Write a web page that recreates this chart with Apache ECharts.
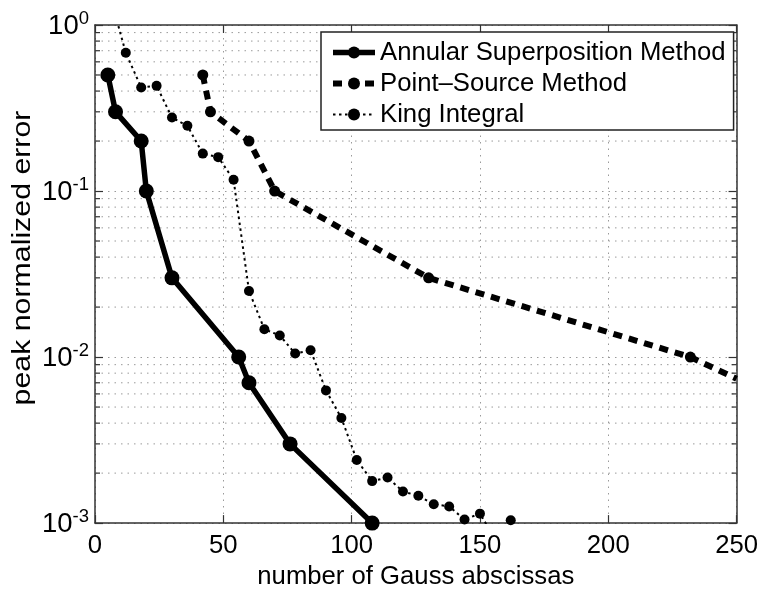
<!DOCTYPE html>
<html>
<head>
<meta charset="utf-8">
<script src="https://cdn.jsdelivr.net/npm/echarts@6/dist/echarts.min.js"></script>
<style>
  html, body { margin: 0; padding: 0; background: #fff; }
  #chart { width: 761px; height: 595px; }
</style>
</head>
<body>
<div id="chart"></div>
<script>
// Convergence of three quadrature schemes: peak normalized error vs. number of Gauss abscissas
const seriesNames = ['Annular Superposition Method', 'Point\u2013Source Method', 'King Integral'];
const xTitle = 'number of Gauss abscissas';
const yTitle = 'peak normalized error';

const annularX = [5, 8, 18, 20, 30, 56, 60, 76, 108];
const annularY = [0.5, 0.3, 0.2, 0.1, 0.03, 0.01, 0.007, 0.003, 0.001];

const pointSourceX = [42, 45, 60, 70, 130, 232, 250];
const pointSourceY = [0.5, 0.3, 0.2, 0.1, 0.03, 0.01, 0.0074];

const kingX = [6, 12, 18, 24, 30, 36, 42, 48, 54, 60, 66, 72, 78, 84, 90, 96, 102, 108, 114, 120, 126, 132, 138, 144, 150, 156, 162];
const kingY = [1.47, 0.68, 0.42, 0.43, 0.277, 0.247, 0.168, 0.16, 0.117, 0.025, 0.0147, 0.0135, 0.0105, 0.011, 0.0063, 0.0043, 0.0024, 0.00179, 0.00188, 0.00155, 0.00146, 0.0013, 0.00126, 0.00105, 0.00114, 0.0008, 0.00104];

const xMin = 0, xMax = 250, xStep = 50;
const yMin = 0.001, yMax = 1;
const decades = [0.001, 0.01, 0.1];
const minorMultipliers = [2, 3, 4, 5, 6, 7, 8, 9];

const FONT = 'Liberation Sans, Arial, Helvetica, sans-serif';
const FS = 25.7;
const INK = '#000';
const AXIS = '#333';
const GRID = '#9a9a9a';

function pairs(xs, ys) { return xs.map((x, i) => [x, ys[i]]); }

const minorValues = [];
decades.forEach(d => minorMultipliers.forEach(m => minorValues.push([xMin, +(m * d).toPrecision(3)])));

// points whose marker falls on the frame edge are drawn as line only
const pointSourceData = pairs(pointSourceX, pointSourceY).map(p =>
  p[0] >= xMax ? { value: p, symbol: 'none' } : p);

const chart = echarts.init(document.getElementById('chart'), null, { renderer: 'canvas' });

const axisLine = { show: true, onZero: false, lineStyle: { color: AXIS, width: 1.5 } };
const majorTick = { show: true, inside: true, length: 8, lineStyle: { color: AXIS, width: 1.2 } };

chart.setOption({
  animation: false,
  backgroundColor: '#fff',
  grid: { left: 95, right: 24, top: 25, bottom: 63, containLabel: false },
  graphic: [{
    // vertical axis title, drawn a little elongated along its reading direction
    type: 'text',
    x: 23, y: 258,
    rotation: Math.PI / 2,
    scaleX: 1.18,
    silent: true,
    style: { text: yTitle, fontFamily: FONT, fontSize: FS, fill: INK, align: 'center', verticalAlign: 'middle' }
  }],
  legend: {
    data: seriesNames,
    orient: 'vertical',
    left: 321,
    top: 32,
    padding: [6, 8, 1, 9],
    itemGap: 2,
    itemWidth: 42,
    itemHeight: 15,
    selectedMode: false,
    backgroundColor: '#fff',
    borderColor: '#222',
    borderWidth: 1.5,
    borderRadius: 0,
    lineStyle: { width: 'inherit', type: 'inherit' },
    textStyle: { fontFamily: FONT, fontSize: FS, color: INK, lineHeight: 29, padding: [0, 0, 0, 0] }
  },
  xAxis: [
    {
      type: 'value', min: xMin, max: xMax, interval: xStep,
      name: xTitle, nameLocation: 'middle', nameGap: 34,
      nameTextStyle: { fontFamily: FONT, fontSize: FS, color: INK },
      axisLine: axisLine,
      axisTick: majorTick,
      axisLabel: { fontFamily: FONT, fontSize: FS, color: INK, margin: 10 },
      splitLine: { show: true, lineStyle: { color: GRID, width: 1, type: [1.5, 5] } }
    },
    {
      type: 'value', min: xMin, max: xMax, interval: xStep, position: 'top',
      axisLine: axisLine,
      axisTick: majorTick,
      axisLabel: { show: false },
      splitLine: { show: false }
    }
  ],
  yAxis: [
    {
      type: 'log', logBase: 10, min: yMin, max: yMax,
      axisLine: axisLine,
      axisTick: majorTick,
      axisLabel: {
        margin: 6,
        formatter: v => '{b|10}{s|' + Math.round(Math.log10(v)) + '}',
        rich: {
          b: { fontFamily: FONT, fontSize: 27.5, color: INK, lineHeight: 31, padding: [8, 0, 0, 0], verticalAlign: 'bottom' },
          s: { fontFamily: FONT, fontSize: 18.5, color: INK, lineHeight: 19, verticalAlign: 'top' }
        }
      },
      splitLine: { show: true, lineStyle: { color: GRID, width: 1, type: [1.5, 5] } }
    },
    {
      type: 'log', logBase: 10, min: yMin, max: yMax, position: 'right',
      axisLine: axisLine,
      axisTick: majorTick,
      axisLabel: { show: false },
      splitLine: { show: false }
    }
  ],
  series: [
    {
      // minor log grid lines with their inward ticks on both frame sides
      type: 'custom',
      name: 'minor grid',
      silent: true,
      z: 1,
      xAxisIndex: 0, yAxisIndex: 0,
      data: minorValues,
      renderItem: function (params, api) {
        const v = api.value(1);
        const a = api.coord([xMin, v]);
        const b = api.coord([xMax, v]);
        return {
          type: 'group',
          children: [
            { type: 'line', shape: { x1: a[0], y1: a[1], x2: b[0], y2: b[1] },
              style: { stroke: GRID, lineWidth: 1, lineDash: [1.5, 5] } },
            { type: 'line', shape: { x1: a[0], y1: a[1], x2: a[0] + 5, y2: a[1] },
              style: { stroke: AXIS, lineWidth: 1.2 } },
            { type: 'line', shape: { x1: b[0] - 5, y1: b[1], x2: b[0], y2: b[1] },
              style: { stroke: AXIS, lineWidth: 1.2 } }
          ]
        };
      }
    },
    {
      name: seriesNames[0], type: 'line', z: 5, clip: true,
      data: pairs(annularX, annularY),
      symbol: 'circle', symbolSize: 15, showAllSymbol: true,
      itemStyle: { color: INK },
      lineStyle: { color: INK, width: 5.5, type: 'solid' }
    },
    {
      name: seriesNames[1], type: 'line', z: 4, clip: true,
      data: pointSourceData,
      symbol: 'circle', symbolSize: 11, showAllSymbol: true,
      itemStyle: { color: INK },
      lineStyle: { color: INK, width: 6, type: [9, 7], cap: 'butt' }
    },
    {
      name: seriesNames[2], type: 'line', z: 3, clip: true,
      data: pairs(kingX, kingY),
      symbol: 'circle', symbolSize: 10, showAllSymbol: true,
      itemStyle: { color: INK },
      lineStyle: { color: INK, width: 2, type: [2.5, 3.5] }
    }
  ]
});
</script>
</body>
</html>
